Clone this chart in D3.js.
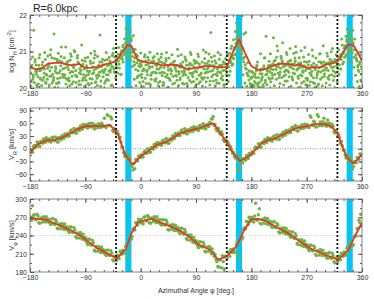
<!DOCTYPE html>
<html>
<head>
<meta charset="utf-8">
<script src="https://d3js.org/d3.v7.min.js"></script>
<style>
body { margin: 0; background: #fff; }
svg { font-family: "Liberation Sans", Arial, sans-serif; }
</style>
</head>
<body>
<div id="chart"></div>
<script>
// azimuth grids of the scattered samples (deg)
var phiA = d3.range(-179, 359, 3);
var phiB = d3.range(-178, 360, 3);
var phiC = d3.range(-177, 361, 3);
var phiD = d3.range(-178.5, 360, 3);
var phiE = d3.range(-177.5, 360, 3);

// log N_H samples
var nhA = [20.42,20.85,20.15,20.63,20.31,20.92,20.07,20.55,20.78,20.24,
  20.66,21.05,20.38,20.81,20.12,20.95,20.47,20.71,20.29,21.12,
  20.58,20.19,20.87,20.44,20.99,20.33,20.68,20.09,20.76,20.52,
  20.21,20.84,20.46,20.13,20.69,20.91,20.27,20.62,20.05,20.79,
  20.48,20.97,20.36,20.74,20.58,21.08,20.41,20.83,20.66,20.95,
  21.12,21.35,21.48,21.21,21.56,20.98,20.72,20.51,20.88,20.34,
  20.62,20.18,20.91,20.45,20.77,20.08,20.58,20.86,20.26,20.69,
  20.41,20.93,20.15,20.64,20.37,20.82,20.53,20.11,20.74,20.46,
  20.88,20.23,20.61,20.39,20.79,20.06,20.55,20.92,20.31,20.68,
  20.44,20.86,20.17,20.71,20.52,20.98,20.28,20.63,20.84,20.36,
  20.75,20.14,20.59,20.91,20.33,20.68,20.47,20.89,20.95,21.15,
  21.32,21.55,21.38,21.62,21.28,21.08,20.85,20.52,20.33,20.12,
  20.45,20.05,20.28,20.71,20.16,20.52,20.09,20.83,20.38,20.62,
  20.94,20.27,20.73,20.51,21.02,20.36,20.81,20.58,20.19,20.92,
  20.43,20.76,20.25,20.67,20.98,20.32,20.59,20.14,20.85,20.48,
  20.21,20.73,20.39,20.88,20.12,20.62,20.46,20.94,20.29,20.71,
  20.55,20.87,20.34,20.99,20.47,20.78,20.61,21.05,20.92,21.18,
  21.09,21.42,21.28,21.51,21.36,21.22,21.05,20.74,20.45,20.22];
var nhB = [20.18,20.36,20.71,20.09,20.52,20.27,20.64,20.41,20.13,20.88,
  20.32,20.57,20.22,20.45,20.79,20.16,20.61,20.38,20.83,20.26,
  20.73,20.42,20.11,20.56,20.35,20.82,20.19,20.48,20.65,20.28,
  20.61,20.37,20.74,20.25,20.49,20.17,20.86,20.43,20.58,20.31,
  20.76,20.24,20.63,20.51,20.89,20.44,20.71,20.93,20.82,21.02,
  21.18,21.04,21.26,21.41,21.15,20.86,20.63,20.92,20.47,20.68,
  20.29,20.53,20.74,20.36,20.59,20.24,20.82,20.43,20.61,20.15,
  20.72,20.34,20.56,20.81,20.28,20.49,20.67,20.32,20.58,20.21,
  20.45,20.66,20.13,20.52,20.74,20.29,20.41,20.63,20.18,20.47,
  20.69,20.35,20.57,20.24,20.81,20.43,20.55,20.19,20.72,20.61,
  20.38,20.52,20.79,20.27,20.48,20.66,20.21,20.58,20.74,20.89,
  21.05,21.22,21.14,21.37,21.02,20.81,20.64,20.41,20.22,20.04,
  20.31,20.18,20.47,20.12,20.39,20.26,20.55,20.21,20.46,20.73,
  20.52,20.66,20.38,20.84,20.59,20.44,20.71,20.33,20.62,20.48,
  20.74,20.56,20.41,20.82,20.49,20.68,20.36,20.57,20.61,20.27,
  20.53,20.41,20.62,20.28,20.51,20.36,20.72,20.44,20.58,20.39,
  20.67,20.48,20.79,20.56,20.71,20.42,20.86,20.64,20.78,20.95,
  21.12,21.28,21.04,21.19,20.97,20.84,20.91,20.58,20.66,20.38];
var nhC = [20.62,21.58,20.45,20.04,20.83,20.51,20.21,20.97,20.35,20.59,
  20.91,20.14,21.48,20.53,20.26,20.74,21.12,20.33,20.55,20.68,
  20.27,20.94,20.62,21.03,20.15,20.71,20.53,21.18,20.36,20.82,
  20.47,20.08,20.95,20.58,21.01,20.34,20.56,21.45,20.71,20.42,
  20.19,20.61,20.84,20.07,20.95,20.72,20.55,21.11,20.38,20.79,
  20.92,21.63,21.72,20.89,21.31,21.44,21.06,20.28,20.61,20.96,
  20.47,20.85,20.12,20.66,20.98,20.41,20.73,20.19,20.94,20.52,
  20.84,20.07,20.68,20.97,20.49,20.21,20.91,20.62,20.35,21.06,
  20.58,20.91,20.34,20.85,20.12,20.64,20.97,20.41,20.76,20.09,
  20.93,20.58,20.29,21.04,20.41,20.67,20.93,21.52,20.48,20.88,
  20.22,20.97,20.44,20.63,20.08,20.81,20.93,20.35,21.08,20.66,
  20.91,21.78,21.45,21.22,20.82,21.48,21.52,20.69,20.46,20.27,
  20.08,20.39,20.62,20.03,20.94,20.31,20.82,21.42,20.56,20.25,
  20.41,21.38,20.62,21.15,20.29,20.87,21.24,20.45,20.97,20.64,
  21.08,20.31,20.95,21.14,20.52,20.83,21.02,20.43,21.11,20.71,
  20.92,20.17,21.04,20.56,20.82,20.07,20.93,20.68,21.16,20.49,
  20.95,20.24,20.71,21.08,20.32,20.91,20.53,20.83,21.34,20.71,
  20.86,21.61,21.46,20.95,21.58,21.34,20.78,20.49,20.91,20.17];
var nhD = [20.05,20.24,19.92,20.38,20.11,20.47,19.96,20.29,20.16,20.54,
  20.08,20.33,20.19,20.02,20.41,20.14,20.28,19.95,20.37,20.11,
  20.22,20.06,20.45,20.17,19.98,20.31,20.09,20.39,20.21,20.04,
  20.34,20.12,20.26,19.97,20.42,20.15,20.07,20.33,20.19,20.48,
  20.13,20.36,20.21,20.44,20.08,20.52,20.27,20.41,20.55,20.38,
  20.71,20.96,20.84,21.09,20.77,20.59,20.24,20.06,20.32,20.15,
  20.38,20.04,20.27,20.49,20.12,20.35,19.94,20.22,20.41,20.06,
  20.18,20.43,20.09,20.31,20.02,20.26,20.39,19.96,20.14,20.33,
  20.07,20.28,20.45,20.11,20.36,19.93,20.21,20.16,20.42,20.03,
  20.25,20.12,20.38,20.05,20.29,20.17,20.44,20.08,20.31,20.19,
  20.06,20.34,20.13,20.41,20.22,20.09,20.37,20.18,20.46,20.62,
  20.81,20.94,20.73,21.06,20.58,20.36,20.14,20.05,19.97,20.11,
  20.02,19.95,20.13,20.07,19.98,20.21,20.04,20.15,20.09,20.28,
  20.17,20.35,20.06,20.24,20.41,20.12,20.29,20.08,20.36,20.19,
  20.31,20.05,20.22,20.39,20.14,20.27,20.03,20.33,20.18,20.09,
  20.26,20.07,20.34,20.15,20.02,20.28,20.11,20.24,20.06,20.32,
  20.14,20.29,20.08,20.36,20.21,20.43,20.17,20.38,20.52,20.66,
  20.84,20.92,20.75,20.98,20.69,20.57,20.35,20.18,20.04,19.96];
var nhE = [20.55,20.31,20.78,20.46,20.62,20.24,20.71,20.52,20.38,20.66,
  20.47,20.83,20.29,20.58,20.74,20.41,20.86,20.53,20.35,20.69,
  20.51,20.77,20.32,20.64,20.48,20.89,20.42,20.59,20.27,20.73,
  20.56,20.44,20.67,20.39,20.82,20.53,20.36,20.71,20.46,20.63,
  20.52,20.78,20.47,20.66,20.58,20.85,20.62,20.74,20.91,20.86,
  21.02,21.24,21.11,20.94,21.38,21.06,20.82,20.69,20.76,20.58,
  20.71,20.49,20.63,20.84,20.55,20.72,20.43,20.66,20.52,20.78,
  20.57,20.69,20.42,20.75,20.58,20.64,20.47,20.71,20.53,20.62,
  20.39,20.57,20.71,20.45,20.62,20.51,20.68,20.37,20.58,20.73,
  20.54,20.66,20.41,20.58,20.67,20.52,20.74,20.46,20.61,20.55,
  20.68,20.43,20.62,20.57,20.72,20.49,20.64,20.76,20.69,20.82,
  21.11,21.35,21.26,21.18,20.94,20.72,20.55,20.38,20.47,20.29,
  20.42,20.34,20.57,20.29,20.48,20.39,20.61,20.36,20.52,20.45,
  20.63,20.51,20.76,20.58,20.67,20.54,20.73,20.62,20.49,20.71,
  20.58,20.66,20.52,20.74,20.63,20.55,20.69,20.47,20.72,20.56,
  20.64,20.53,20.46,20.68,20.59,20.42,20.57,20.71,20.48,20.62,
  20.55,20.69,20.62,20.74,20.58,20.71,20.66,20.81,20.88,20.99,
  21.16,21.33,21.21,21.07,21.27,21.05,20.83,20.62,20.71,20.53];

// V_R samples (km/s)
var vrA = [-6,-8,8,5,15,6,17,23,15,22,
  23,16,27,19,26,16,26,31,24,32,
  36,30,44,38,46,37,48,54,46,54,
  57,49,60,51,57,47,55,59,50,56,
  72,50,78,54,70,40,43,41,24,16,
  3,-18,-13,-25,-25,-42,-34,-25,-29,-18,
  -14,-19,-5,-10,-1,-8,3,10,4,12,
  14,8,20,14,21,13,23,30,24,33,
  37,31,44,37,45,35,44,49,41,48,
  50,43,55,49,56,47,56,62,70,76,
  57,42,47,34,34,17,18,15,-1,-3,
  -9,-22,-16,-29,-24,-33,-23,-16,-23,-13,
  -7,-11,4,1,11,4,16,22,15,23,
  25,18,30,23,31,23,33,39,32,40,
  44,38,51,45,52,42,51,56,48,55,
  57,50,74,55,62,51,76,63,54,72,
  60,68,60,51,53,37,39,33,13,7,
  -4,-22,-17,-30,-28,-42,-30,-21,-25,-13];
var vrB = [-9,5,3,16,6,17,13,22,26,18,
  17,26,20,28,16,26,21,30,35,29,
  31,41,38,48,37,47,43,52,57,51,
  51,59,52,60,47,56,50,57,60,52,
  52,80,55,75,43,47,35,35,27,5,
  -10,-11,-22,-19,-38,-50,-47,-25,-17,-21,
  -19,-8,-11,0,-9,3,-1,10,15,9,
  9,19,14,24,13,23,20,30,36,31,
  32,42,38,47,36,45,40,48,52,45,
  45,54,49,59,47,57,52,61,70,55,
  47,49,37,40,21,23,9,10,5,-11,
  -18,-15,-52,-45,-33,-23,-27,-17,-11,-15,
  -11,1,0,12,3,15,12,21,26,20,
  19,28,24,33,22,33,29,38,43,37,
  39,49,45,55,42,52,47,55,58,51,
  51,78,56,65,52,80,54,61,64,55,
  53,60,52,58,40,43,29,26,17,-3,
  -15,-15,-27,-23,-48,-31,-33,-21,-12,-15];

// V_phi samples (km/s)
var vpA = [270,289,274,266,272,260,268,271,262,267,
  267,258,268,258,263,251,257,260,250,254,
  254,245,254,245,249,236,242,245,234,237,
  236,225,234,224,228,214,220,222,212,217,
  216,207,216,207,211,198,204,208,202,212,
  216,211,225,226,240,238,252,261,257,265,
  267,259,271,264,270,260,268,271,261,266,
  266,257,266,257,261,249,256,258,248,253,
  253,243,252,242,246,233,239,241,229,232,
  231,220,230,221,225,213,220,222,210,212,
  209,197,188,200,207,185,206,213,206,215,
  218,213,229,228,241,237,253,263,258,268,
  270,262,293,265,284,259,266,269,259,263,
  263,253,263,253,257,244,251,253,243,247,
  247,237,246,235,239,225,231,233,222,226,
  225,215,224,215,220,207,214,217,207,211,
  211,202,212,202,207,195,202,206,200,209,
  213,208,222,218,230,225,240,251,265,275];
var vpB = [265,273,267,275,261,269,262,269,271,262,
  260,267,260,266,252,259,251,257,259,250,
  247,254,246,253,238,244,236,241,242,232,
  228,234,226,232,216,222,214,219,221,212,
  209,216,208,215,200,206,199,207,214,209,
  211,222,205,214,234,250,249,261,267,261,
  261,270,264,273,261,269,263,269,271,261,
  259,266,258,265,250,257,250,256,257,248,
  246,252,244,250,235,241,232,237,237,227,
  223,229,222,229,214,221,214,219,218,206,
  201,189,200,187,197,206,202,212,217,212,
  213,225,208,200,234,250,251,263,270,264,
  264,272,266,274,260,267,260,266,268,258,
  256,262,254,260,246,252,245,250,252,242,
  240,246,237,243,227,233,224,229,231,221,
  218,224,216,223,209,215,208,214,216,207,
  204,211,204,211,197,203,197,206,211,206,
  208,219,217,230,223,238,239,252,261,257];

// binned mean curves (red)
var nhLinePhi = [-180,-170,-160,-150,-140,-130,-120,-110,-100,-90,-80,-70,-60,-50,-40,-30,-22,-15,-5,5,15,25,35,45,55,65,75,85,95,105,115,125,135,140,150,160,170,180,190,200,210,220,230,240,250,260,270,280,290,300,310,320,330,337,347,360];
var nhLineVal = [20.58,20.51,20.55,20.67,20.69,20.69,20.64,20.62,20.66,20.55,20.56,20.58,20.64,20.68,20.74,20.98,21.18,21.15,20.77,20.72,20.69,20.67,20.62,20.63,20.64,20.6,20.52,20.54,20.57,20.6,20.6,20.57,20.57,20.58,20.98,21.33,20.95,20.6,20.5,20.5,20.57,20.64,20.67,20.66,20.61,20.64,20.55,20.57,20.55,20.64,20.67,20.72,20.98,21.2,21.15,20.75];
var vrLinePhi = [-180,-169,-153,-139,-128,-115,-99,-88,-78,-61,-50,-42,-36,-31,-25,-20,-15,-12,-1,12,26,42,64,77,94,118,132,142,151,162,175,186,197,208,218,235,251,267,284,300,311,320,327,335,346,354,360];
var vrLineVal = [-11,9,20,21,26,36,48,54,53,54,56,44,32,9,-15,-23,-35,-36,-19,-6,9,16,36,42,48,60,32,9,-11,-29,-19,-3,13,21,24,36,48,52,58,58,52,36,9,-19,-35,-23,-13];
var vpLinePhi = [-180,-175,-153,-134,-115,-96,-82,-71,-55,-42,-39,-31,-24,-15,-4,10,18,42,64,72,80,94,113,126,140,156,167,180,191,205,224,245,262,278,300,321,327,338,348,360];
var vpLineVal = [267,268,265.5,257.5,249.3,238.3,227.5,219.3,211,204,201.3,211,217.6,243.8,262,265.6,267.3,257.5,248,243,237,225,216.5,200.2,205.6,222,246.5,266.8,267.3,263,252,241,227.5,217.6,208.3,200.2,205.6,216.5,238,261];

// markers
var dashPhi = [-40, 140, 320];
var bandFrom = [-25, 155, 335];
var bandTo = [-15, 165, 345];
var xTicks = [-180, -90, 0, 90, 180, 270, 360];

var width = 374, height = 299;

var svg = d3.select("#chart")
  .append("svg")
    .attr("width", width)
    .attr("height", height);

var x = d3.scaleLinear().domain([-180, 360]).range([30, 362]);

var panels = [
  {top: 15, bottom: 88, domain: [20, 22], ticks: [20, 21, 22], minor: 0.2, grid: null, r: 1.5,
   pts: [[phiA, nhA], [phiB, nhB], [phiC, nhC], [phiD, nhD], [phiE, nhE]],
   lx: nhLinePhi, ly: nhLineVal,
   label: [["log N", 0], ["H", -1], [" [cm", 0], ["-2", 1], ["]", 0]]},
  {top: 108, bottom: 181, domain: [-76, 96], ticks: [-60, -30, 0, 30, 60, 90], minor: 15, grid: 0, gridColor: "#777", r: 1.7,
   pts: [[phiA, vrA], [phiE, vrB]],
   lx: vrLinePhi, ly: vrLineVal,
   label: [["V", 0], ["R", -1], [" [km/s]", 0]]},
  {top: 199, bottom: 272, domain: [180, 300], ticks: [180, 210, 240, 270, 300], minor: 15, grid: 240, gridColor: "#bbb", r: 1.7,
   pts: [[phiA, vpA], [phiE, vpB]],
   lx: vpLinePhi, ly: vpLineVal,
   label: [["V", 0], ["\u03c6", -1], [" [km/s]", 0]]}
];

panels.forEach(function(p, i) {
  var y = d3.scaleLinear().domain(p.domain).range([p.bottom, p.top]);
  var g = svg.append("g");
  var h = p.bottom - p.top;

  g.append("clipPath").attr("id", "clip" + i)
    .append("rect").attr("x", 30).attr("y", p.top).attr("width", 332).attr("height", h);

  var inner = g.append("g").attr("clip-path", "url(#clip" + i + ")");

  // grid line
  if (p.grid !== null) {
    inner.append("line")
      .attr("x1", 30).attr("x2", 362)
      .attr("y1", y(p.grid)).attr("y2", y(p.grid))
      .attr("stroke", p.gridColor).attr("stroke-width", 0.8)
      .attr("stroke-dasharray", "1,1.5");
  }

  // cyan bands
  inner.selectAll(".band")
    .data(bandFrom)
    .enter().append("rect")
      .attr("x", function(d) { return x(d); })
      .attr("width", function(d, j) { return x(bandTo[j]) - x(d); })
      .attr("y", p.top).attr("height", h)
      .attr("fill", "#08c4f4");

  // scatter
  p.pts.forEach(function(s) {
    inner.selectAll(null)
      .data(s[1])
      .enter().append("circle")
        .attr("cx", function(d, j) { return x(s[0][j]); })
        .attr("cy", function(d) { return y(d); })
        .attr("r", p.r)
        .attr("fill", "#6cb544");
  });

  // dashed lines
  inner.selectAll(".dash")
    .data(dashPhi)
    .enter().append("line")
      .attr("x1", function(d) { return x(d); })
      .attr("x2", function(d) { return x(d); })
      .attr("y1", p.top).attr("y2", p.bottom)
      .attr("stroke", "#111").attr("stroke-width", 1.8)
      .attr("stroke-dasharray", "2,2");

  // mean curve
  var line = d3.line()
    .x(function(d) { return x(d); })
    .y(function(d, j) { return y(p.ly[j]); });
  inner.append("path")
    .attr("d", line(p.lx))
    .attr("fill", "none")
    .attr("stroke", "#e2382b")
    .attr("stroke-width", 1.8)
    .attr("stroke-linejoin", "round");

  // axes: inward ticks
  var xMinor = d3.range(-180, 361, 15);
  var yMinor = d3.range(p.domain[0] - p.domain[0] % p.minor, p.domain[1] + 1e-9, p.minor)
    .filter(function(d) { return d >= p.domain[0] && d <= p.domain[1]; });

  function styleAxis(sel) {
    sel.select(".domain").remove();
    sel.selectAll("line").attr("stroke", "#555");
    sel.selectAll("text").attr("fill", "#333").attr("font-size", 7);
  }

  g.append("g").attr("transform", "translate(0," + p.bottom + ")")
    .call(d3.axisBottom(x).tickValues(xMinor).tickSize(-2).tickFormat(""))
    .call(styleAxis);
  g.append("g").attr("transform", "translate(0," + p.bottom + ")")
    .call(d3.axisBottom(x).tickValues(xTicks).tickSize(-4).tickPadding(3.5).tickFormat(d3.format("d")))
    .call(styleAxis);
  g.append("g").attr("transform", "translate(0," + p.top + ")")
    .call(d3.axisTop(x).tickValues(xMinor).tickSize(-2).tickFormat(""))
    .call(styleAxis);
  g.append("g").attr("transform", "translate(0," + p.top + ")")
    .call(d3.axisTop(x).tickValues(xTicks).tickSize(-4).tickFormat(""))
    .call(styleAxis);

  g.append("g").attr("transform", "translate(30,0)")
    .call(d3.axisLeft(y).tickValues(yMinor).tickSize(-2).tickFormat(""))
    .call(styleAxis);
  g.append("g").attr("transform", "translate(30,0)")
    .call(d3.axisLeft(y).tickValues(p.ticks).tickSize(-4).tickPadding(3).tickFormat(d3.format("d")))
    .call(styleAxis);
  g.append("g").attr("transform", "translate(362,0)")
    .call(d3.axisRight(y).tickValues(yMinor).tickSize(-2).tickFormat(""))
    .call(styleAxis);
  g.append("g").attr("transform", "translate(362,0)")
    .call(d3.axisRight(y).tickValues(p.ticks).tickSize(-4).tickFormat(""))
    .call(styleAxis);

  // frame
  g.append("rect")
    .attr("x", 30).attr("y", p.top).attr("width", 332).attr("height", h)
    .attr("fill", "none").attr("stroke", "#666").attr("stroke-width", 0.8);

  // y label
  var t = g.append("text")
    .attr("transform", "translate(14," + (p.top + h / 2) + ") rotate(-90)")
    .attr("text-anchor", "middle")
    .attr("font-size", 7.5)
    .attr("fill", "#333");
  p.label.forEach(function(part) {
    var ts = t.append("tspan").text(part[0]);
    if (part[1] !== 0) {
      ts.attr("font-size", 5.5)
        .attr("baseline-shift", part[1] > 0 ? "super" : "sub");
    }
  });
});

// title
svg.append("text")
  .attr("x", 33).attr("y", 12)
  .attr("font-size", 10.5)
  .attr("fill", "#222")
  .text("R=6.0kpc");

// x axis title
svg.append("text")
  .attr("x", 196).attr("y", 293)
  .attr("text-anchor", "middle")
  .attr("font-size", 7)
  .attr("fill", "#333")
  .text("Azimuthal Angle \u03c6 [deg.]");
</script>
</body>
</html>
